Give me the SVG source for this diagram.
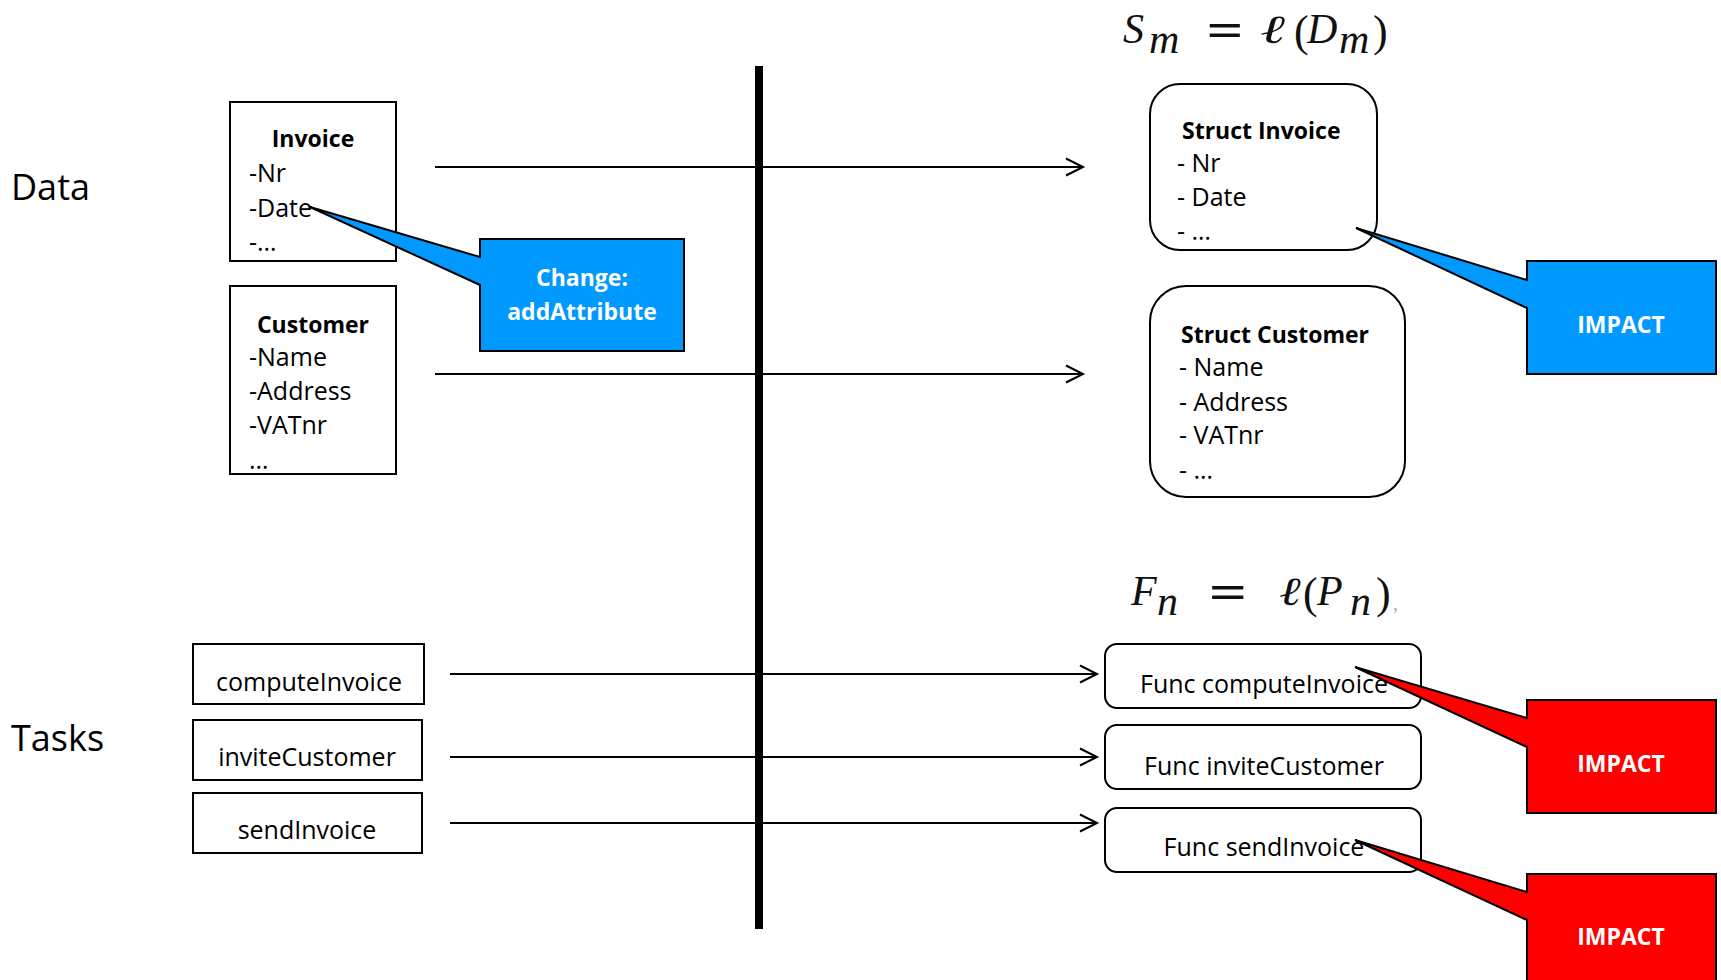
<svg xmlns="http://www.w3.org/2000/svg" width="1721" height="980" viewBox="0 0 1721 980">
  <style>
    .txt { font-family: "Open Sans", Lato, "Liberation Sans", sans-serif; font-size: 25px; fill: #000; }
    .bold { font-weight: 700; font-size: 23px; }
    .white { fill: #fff; }
    .mid { text-anchor: middle; }
    .big { font-family: "Open Sans", Lato, "Liberation Sans", sans-serif; font-size: 36px; fill: #000; }
    .math { font-family: "Liberation Serif", "DejaVu Serif", serif; font-style: italic; font-size: 42px; fill: #111; }
    .up { font-style: normal; }
    .eq { font-family: "Liberation Serif", "DejaVu Serif", serif; font-weight: 700; font-size: 48px; fill: #111; text-anchor: middle; }
    .ell { font-family: "DejaVu Serif", "Liberation Serif", serif; font-style: italic; font-weight: 700; font-size: 40px; fill: #111; text-anchor: middle; }
    .box { fill: #fff; stroke: #000; stroke-width: 2; }
    .conn { stroke: #000; stroke-width: 1.8; fill: none; marker-end: url(#open); }
    .blue { fill: #0099ff; stroke: #000; stroke-width: 2; }
    .red { fill: #ff0000; stroke: #000; stroke-width: 2; }
  </style>
  <defs>
    <marker id="open" markerUnits="userSpaceOnUse" markerWidth="22" markerHeight="22" refX="18" refY="10" orient="auto">
      <path d="M1,1.5 L18,10 L1,18.5" fill="none" stroke="#000" stroke-width="2"/>
    </marker>
  </defs>
  <rect width="1721" height="980" fill="#fff"/>

  <!-- row labels -->
  <text class="big" x="11" y="200">Data</text>
  <text class="big" x="11" y="751">Tasks</text>

  <!-- separator -->
  <line x1="759" y1="66" x2="759" y2="929" stroke="#000" stroke-width="8"/>

  <!-- formulas: italic runs placed glyph by glyph, wide "=" and script ell stretched -->
  <g id="formula-struct">
    <text class="math"><tspan x="1123" y="43">S</tspan><tspan x="1149" y="53">m</tspan></text>
    <text class="eq" transform="translate(1225,46) scale(1.35,1)">=</text>
    <text class="ell" transform="translate(1274,43) scale(1.5,1)">ℓ</text>
    <text class="math"><tspan class="up" x="1294" y="46" font-size="44">(</tspan><tspan x="1307" y="43">D</tspan><tspan x="1339" y="53">m</tspan><tspan class="up" x="1373" y="46" font-size="44">)</tspan></text>
  </g>
  <g id="formula-func">
    <text class="math"><tspan x="1131" y="605">F</tspan><tspan x="1157" y="615">n</tspan></text>
    <text class="eq" transform="translate(1228,608) scale(1.4,1)">=</text>
    <text class="ell" transform="translate(1291,605) scale(1.3,1)">ℓ</text>
    <text class="math"><tspan class="up" x="1303" y="608" font-size="44">(</tspan><tspan x="1317" y="605">P</tspan><tspan x="1350" y="615">n</tspan><tspan class="up" x="1376" y="608" font-size="44">)</tspan><tspan class="up" x="1393" y="610" font-size="20" fill="#aaa">,</tspan></text>
  </g>

  <!-- connectors -->
  <g id="connectors">
    <line class="conn" x1="435" y1="167" x2="1083" y2="167"/>
    <line class="conn" x1="435" y1="374" x2="1083" y2="374"/>
    <line class="conn" x1="450" y1="674" x2="1097" y2="674"/>
    <line class="conn" x1="450" y1="757" x2="1097" y2="757"/>
    <line class="conn" x1="450" y1="823" x2="1097" y2="823"/>
  </g>

  <!-- data side -->
  <g id="invoice">
    <rect class="box" x="230" y="102" width="166" height="159"/>
    <text class="txt bold mid" x="313" y="147">Invoice</text>
    <text class="txt" x="249" y="182">-Nr</text>
    <text class="txt" x="249" y="217">-Date</text>
    <text class="txt" x="249" y="251">-…</text>
  </g>
  <g id="customer">
    <rect class="box" x="230" y="286" width="166" height="188"/>
    <text class="txt bold mid" x="313" y="333">Customer</text>
    <text class="txt" x="249" y="366">-Name</text>
    <text class="txt" x="249" y="400">-Address</text>
    <text class="txt" x="249" y="434">-VATnr</text>
    <text class="txt" x="249" y="469">…</text>
  </g>

  <g id="struct-invoice">
    <rect class="box" x="1150" y="84" width="227" height="166" rx="30"/>
    <text class="txt bold" x="1182" y="139">Struct Invoice</text>
    <text class="txt" x="1177" y="172">- Nr</text>
    <text class="txt" x="1177" y="206">- Date</text>
    <text class="txt" x="1177" y="240">- …</text>
  </g>
  <g id="struct-customer">
    <rect class="box" x="1150" y="286" width="255" height="211" rx="36"/>
    <text class="txt bold" x="1181" y="343">Struct Customer</text>
    <text class="txt" x="1179" y="376">- Name</text>
    <text class="txt" x="1179" y="411">- Address</text>
    <text class="txt" x="1179" y="444">- VATnr</text>
    <text class="txt" x="1179" y="479">- …</text>
  </g>

  <!-- task side -->
  <g id="task-compute">
    <rect class="box" x="193" y="644" width="231" height="60"/>
    <text class="txt mid" x="309" y="691">computeInvoice</text>
  </g>
  <g id="task-invite">
    <rect class="box" x="193" y="720" width="229" height="60"/>
    <text class="txt mid" x="307" y="766">inviteCustomer</text>
  </g>
  <g id="task-send">
    <rect class="box" x="193" y="793" width="229" height="60"/>
    <text class="txt mid" x="307" y="839">sendInvoice</text>
  </g>

  <g id="func-compute">
    <rect class="box" x="1105" y="644" width="316" height="64" rx="12"/>
    <text class="txt mid" x="1264" y="693">Func computeInvoice</text>
  </g>
  <g id="func-invite">
    <rect class="box" x="1105" y="725" width="316" height="64" rx="12"/>
    <text class="txt mid" x="1264" y="775">Func inviteCustomer</text>
  </g>
  <g id="func-send">
    <rect class="box" x="1105" y="808" width="316" height="64" rx="12"/>
    <text class="txt mid" x="1264" y="856">Func sendInvoice</text>
  </g>

  <!-- callouts -->
  <g id="callout-change">
    <path class="blue" d="M480,239 H684 V351 H480 V285 L310,207 L480,257 Z"/>
    <text class="txt bold white mid" x="582" y="286">Change:</text>
    <text class="txt bold white mid" x="582" y="320">addAttribute</text>
  </g>
  <g id="callout-impact-struct">
    <path class="blue" d="M1527,261 H1716 V374 H1527 V308 L1356,228 L1527,280 Z"/>
    <text class="txt bold white mid" x="1621" y="333">IMPACT</text>
  </g>
  <g id="callout-impact-compute">
    <path class="red" d="M1527,700 H1716 V813 H1527 V747 L1355,667 L1527,718 Z"/>
    <text class="txt bold white mid" x="1621" y="772">IMPACT</text>
  </g>
  <g id="callout-impact-send">
    <path class="red" d="M1527,874 H1716 V990 H1527 V920 L1355,840 L1527,892 Z"/>
    <text class="txt bold white mid" x="1621" y="945">IMPACT</text>
  </g>
</svg>
